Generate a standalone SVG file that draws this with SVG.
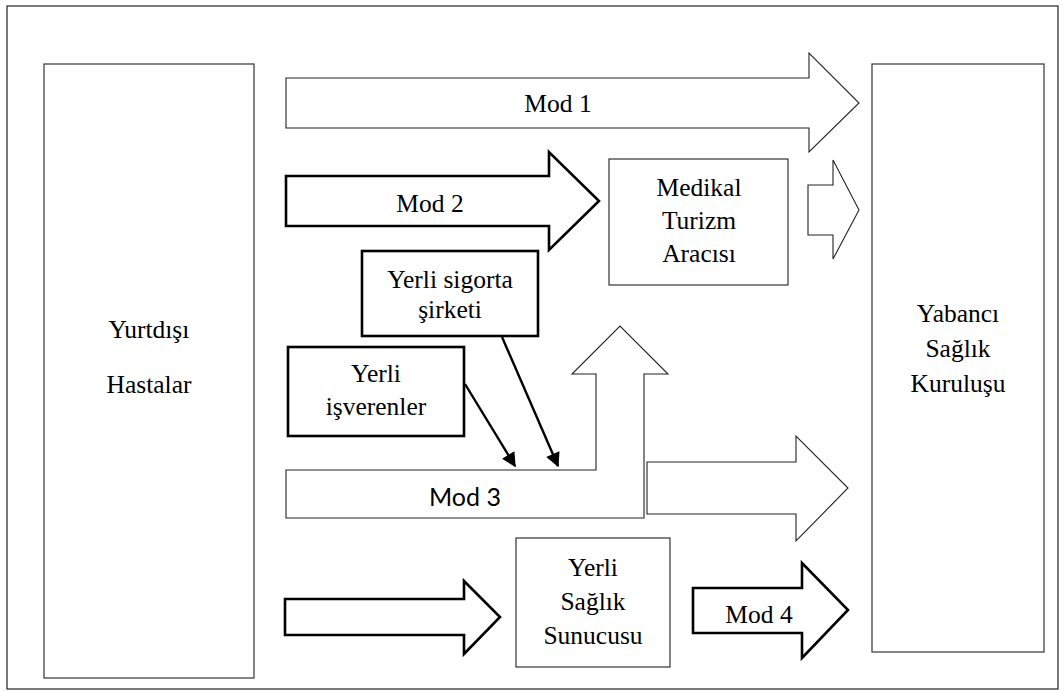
<svg xmlns="http://www.w3.org/2000/svg" width="1064" height="691" viewBox="0 0 1064 691">
<style>
.bg{fill:#ffffff}
.frame{fill:none;stroke:#222;stroke-width:1.2}
.box{fill:#ffffff;stroke:#333;stroke-width:1.2}
.tbox{fill:#ffffff;stroke:#000;stroke-width:2.6}
.thin{fill:#ffffff;stroke:#222;stroke-width:1.1;stroke-linejoin:miter}
.thick{fill:#ffffff;stroke:#000;stroke-width:2.6;stroke-linejoin:miter}
.ln{fill:none;stroke:#000;stroke-width:2.4}
.t{font-family:"Liberation Serif","Times New Roman",serif;font-size:25.5px;fill:#000;text-anchor:middle}
.s{font-family:Lato,"Liberation Sans",sans-serif;font-size:25px;fill:#000;text-anchor:middle}
</style>
<defs>
<marker id="ah" viewBox="0 0 10 10" refX="9" refY="5" markerWidth="6.5" markerHeight="6" markerUnits="strokeWidth" orient="auto">
<path d="M0,0 L10,5 L0,10 Z" fill="#000"/>
</marker>
</defs>
<rect class="bg" x="0" y="0" width="1064" height="691"/>
<rect class="frame" x="7" y="6" width="1051" height="683"/>

<g id="yurtdisi">
<rect class="box" x="44" y="64" width="210" height="614"/>
<text class="t" x="149" y="338">Yurtdışı</text>
<text class="t" x="149" y="393">Hastalar</text>
</g>

<g id="yabanci">
<rect class="box" x="872" y="64" width="172" height="588"/>
<text class="t" x="958" y="322">Yabancı</text>
<text class="t" x="958" y="357">Sağlık</text>
<text class="t" x="958" y="392">Kuruluşu</text>
</g>

<g id="medikal">
<rect class="box" x="609" y="159" width="179" height="126"/>
<text class="t" x="699" y="196">Medikal</text>
<text class="t" x="699" y="229">Turizm</text>
<text class="t" x="699" y="262">Aracısı</text>
</g>

<g id="sigorta">
<rect class="tbox" x="362" y="251" width="176" height="85"/>
<text class="t" x="450" y="288">Yerli sigorta</text>
<text class="t" x="450" y="318">şirketi</text>
</g>

<g id="isverenler">
<rect class="tbox" x="288" y="347" width="176" height="89"/>
<text class="t" x="376" y="382">Yerli</text>
<text class="t" x="376" y="415">işverenler</text>
</g>

<g id="yerli-saglik">
<rect class="box" x="516" y="538" width="154" height="129"/>
<text class="t" x="593" y="576">Yerli</text>
<text class="t" x="593" y="610">Sağlık</text>
<text class="t" x="593" y="644">Sunucusu</text>
</g>

<g id="connectors">
<g id="mod1">
<path class="thin" d="M286,78 H809 V53 L859,103 L809,152 V128 H286 Z"/>
<text class="t" x="558" y="112">Mod 1</text>
</g>
<g id="mod2">
<path class="thick" d="M286,176 H549 V152 L599,201 L549,250 V226 H286 Z"/>
<text class="t" x="430" y="212">Mod 2</text>
</g>
<path id="medikal-out" class="thin" d="M808,185 H833 V160 L859,210 L833,259 V235 H808 Z"/>
<g id="mod3">
<path class="thin" d="M286,470 H596 V374 H572 L620,326 L668,374 H644 V518 H286 Z"/>
<text class="s" x="465" y="506">Mod 3</text>
</g>
<path id="mod3-out" class="thin" d="M647,462 H796 V436 L848,488 L796,541 V514 H647 Z"/>
<path id="in-yerli" class="thick" d="M285,599 H464 V581 L500,617 L464,654 V635 H285 Z"/>
<g id="mod4">
<path class="thick" d="M693,588 H802 V563 L848,610 L802,658 V633 H693 Z"/>
<text class="t" x="759" y="623">Mod 4</text>
</g>
<line class="ln" x1="465" y1="384" x2="515" y2="466" marker-end="url(#ah)"/>
<line class="ln" x1="502" y1="337" x2="558" y2="466" marker-end="url(#ah)"/>
</g>
</svg>
